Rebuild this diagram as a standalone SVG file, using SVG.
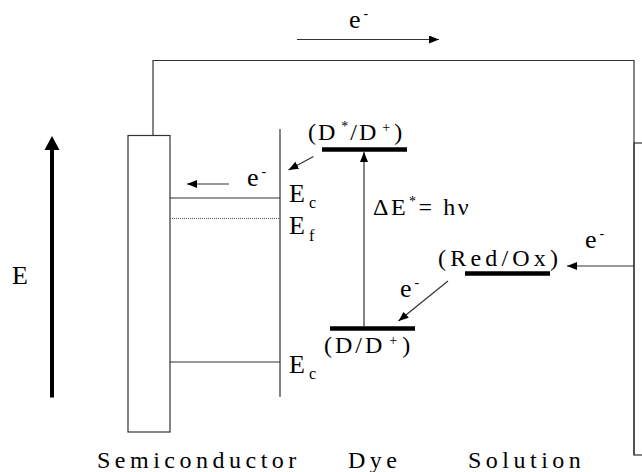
<svg xmlns="http://www.w3.org/2000/svg" width="642" height="472" viewBox="0 0 642 472">
<defs>
<style>
.t{font-family:"Liberation Serif","Times New Roman",serif;font-size:24px;fill:#000}
.big{font-size:26px}
.sup{font-size:14px}
.sub{font-size:16px}
.ln{stroke:#333;stroke-width:1.2;fill:none}
.bar{stroke:#000;stroke-width:4.5;fill:none}
.lab{font-family:"Liberation Serif","Times New Roman",serif;font-size:24px;letter-spacing:4.5px;fill:#000}
</style>
<marker id="ah" viewBox="0 0 10 8" refX="10" refY="4" markerWidth="10" markerHeight="8" markerUnits="userSpaceOnUse" orient="auto">
<path d="M0,0 L10,4 L0,8 z" fill="#000"/>
</marker>
</defs>
<rect width="642" height="472" fill="#fff"/>

<g id="circuit">
<path class="ln" d="M153,135.5 V60.5 H634 V455" stroke="#000"/>
</g>

<g id="semiconductor">
<rect class="ln" x="128" y="135.5" width="42" height="296.5"/>
<line class="ln" x1="280" y1="129" x2="280" y2="397"/>
<line class="ln" x1="170" y1="198" x2="280" y2="198"/>
<line x1="170" y1="218.5" x2="280" y2="218.5" stroke="#555" stroke-width="1" stroke-dasharray="1,1"/>
<line class="ln" x1="170" y1="362" x2="280" y2="362"/>
<text class="t big" x="289" y="202">E<tspan class="sub" dx="4" dy="6">c</tspan></text>
<text class="t big" x="289" y="234">E<tspan class="sub" dx="4" dy="7">f</tspan></text>
<text class="t big" x="289" y="373">E<tspan class="sub" dx="4" dy="6">c</tspan></text>
</g>

<g id="counter-electrode">
<rect class="ln" x="634" y="143" width="30" height="312"/>
</g>

<g id="energy-axis">
<line x1="52" y1="148" x2="52" y2="397.5" stroke="#000" stroke-width="4"/>
<polygon points="52,136 44.5,150 59.5,150" fill="#000"/>
<text class="t big" x="12" y="284">E</text>
</g>

<g id="dye-excited">
<line class="bar" x1="322" y1="149.5" x2="407" y2="149.5"/>
<text class="t" x="308" y="140" letter-spacing="2">(D<tspan class="sup" dx="4" dy="-9">*</tspan><tspan dy="9">/D</tspan><tspan class="sup" dx="4" dy="-8">+</tspan><tspan dx="2" dy="8">)</tspan></text>
</g>

<g id="dye-ground">
<line class="bar" x1="330" y1="328.5" x2="415" y2="328.5"/>
<text class="t" x="324" y="353" letter-spacing="3">(D<tspan>/D</tspan><tspan class="sup" dx="4" dy="-8">+</tspan><tspan dx="2" dy="8">)</tspan></text>
</g>

<g id="redox">
<line class="bar" x1="465" y1="273.5" x2="550" y2="273.5"/>
<text class="t" x="438" y="266" letter-spacing="4.2">(Red/Ox)</text>
</g>

<g id="labels">
<text class="lab" x="97" y="468">Semiconductor</text>
<text class="lab" x="348" y="468">Dye</text>
<text class="lab" x="468" y="468">Solution</text>
<text class="t" x="373" y="215" letter-spacing="2.5">ΔE<tspan class="sup" dx="1" dy="-9">*</tspan><tspan dy="9">= hν</tspan></text>
</g>

<g id="connectors">
<line class="ln" x1="297" y1="39.5" x2="439" y2="39.5" stroke="#000" marker-end="url(#ah)"/>
<text class="t big" x="349" y="28">e<tspan class="sup" dx="3" dy="-10">-</tspan></text>
<line class="ln" x1="229" y1="184" x2="187" y2="184" stroke="#000" marker-end="url(#ah)"/>
<text class="t big" x="247" y="186">e<tspan class="sup" dx="3" dy="-10">-</tspan></text>
<line class="ln" x1="313.5" y1="156.5" x2="288.5" y2="170" stroke="#000" marker-end="url(#ah)"/>
<line class="ln" x1="364" y1="327" x2="364" y2="152" marker-end="url(#ah)"/>
<line class="ln" x1="634" y1="266" x2="567" y2="266" marker-end="url(#ah)"/>
<text class="t big" x="585" y="248">e<tspan class="sup" dx="3" dy="-10">-</tspan></text>
<line class="ln" x1="448" y1="281" x2="398.5" y2="321" stroke="#000" marker-end="url(#ah)"/>
<text class="t big" x="400" y="297">e<tspan class="sup" dx="3" dy="-10">-</tspan></text>
</g>
</svg>
